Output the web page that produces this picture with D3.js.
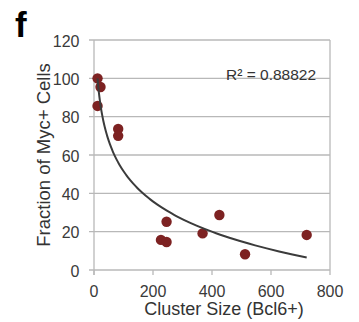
<!DOCTYPE html>
<html>
<head>
<meta charset="utf-8">
<script src="https://cdn.jsdelivr.net/npm/d3@7"></script>
<style>
  body { margin: 0; background: #fff; }
  text { font-family: "Liberation Sans", Arial, sans-serif; }
</style>
</head>
<body>
<div id="chart"></div>
<script>
// values
var clusterSize = [12, 22, 12, 82, 82, 246, 227, 246, 368, 425, 512, 721];
var fractionMyc = [100, 95.5, 85.6, 73.6, 70, 25.2, 15.7, 14.6, 19.1, 28.7, 8.2, 18.3];
var xTicks = [0, 200, 400, 600, 800];
var yTicks = [0, 20, 40, 60, 80, 100, 120];
var r2Label = "R\u00b2 = 0.88822";

var svg = d3.select("#chart").append("svg")
  .attr("width", 359)
  .attr("height", 322);

var margin = { top: 40, left: 94, right: 29, bottom: 52 };
var width = 359 - margin.left - margin.right;
var height = 322 - margin.top - margin.bottom;

var g = svg.append("g").attr("transform", "translate(" + margin.left + "," + margin.top + ")");

var x = d3.scaleLinear().domain([0, 800]).range([0, width]);
var y = d3.scaleLinear().domain([0, 120]).range([height, 0]);

// grid lines
g.selectAll(".grid")
  .data(yTicks)
  .enter().append("line")
  .attr("x1", -5).attr("x2", width)
  .attr("y1", function (d) { return y(d); })
  .attr("y2", function (d) { return y(d); })
  .attr("stroke", "#b8b8b8")
  .attr("stroke-width", 1.3);

// left axis and right border
g.append("line").attr("x1", 0).attr("x2", 0).attr("y1", 0).attr("y2", height + 5)
  .attr("stroke", "#b8b8b8").attr("stroke-width", 1.3);
g.append("line").attr("x1", width).attr("x2", width).attr("y1", 0).attr("y2", height)
  .attr("stroke", "#b8b8b8").attr("stroke-width", 1.3);

// bottom ticks
g.selectAll(".xtick")
  .data(xTicks)
  .enter().append("line")
  .attr("x1", function (d) { return x(d); })
  .attr("x2", function (d) { return x(d); })
  .attr("y1", height).attr("y2", height + 5)
  .attr("stroke", "#b8b8b8").attr("stroke-width", 1.3);

g.selectAll(".xlab")
  .data(xTicks)
  .enter().append("text")
  .attr("x", function (d) { return x(d); })
  .attr("y", height + 26.5)
  .attr("text-anchor", "middle")
  .attr("font-size", 16)
  .attr("fill", "#3a3a3a")
  .text(function (d) { return d; });

g.selectAll(".ylab")
  .data(yTicks)
  .enter().append("text")
  .attr("x", -14.5)
  .attr("y", function (d) { return y(d) + 6.5; })
  .attr("text-anchor", "end")
  .attr("font-size", 16)
  .attr("fill", "#3a3a3a")
  .text(function (d) { return d; });

// points
var pts = clusterSize.map(function (d, i) { return [d, fractionMyc[i]]; });
g.selectAll("circle")
  .data(pts)
  .enter().append("circle")
  .attr("cx", function (d) { return x(d[0]); })
  .attr("cy", function (d) { return y(d[1]); })
  .attr("r", 5.2)
  .attr("fill", "#7d2222");

// logarithmic trendline, least squares on ln(x)
var lx = clusterSize.map(Math.log);
var mx = d3.mean(lx), my = d3.mean(fractionMyc);
var sxy = d3.sum(lx, function (d, i) { return (d - mx) * (fractionMyc[i] - my); });
var sxx = d3.sum(lx, function (d) { return (d - mx) * (d - mx); });
var a = sxy / sxx, b = my - a * mx;
var lo = Math.log(d3.min(clusterSize)), hi = Math.log(d3.max(clusterSize));
var xs = d3.range(60).map(function (i) {
  return Math.exp(lo + (hi - lo) * i / 59);
});
var line = d3.line()
  .x(function (d) { return x(d); })
  .y(function (d) { return y(a * Math.log(d) + b); })
  .curve(d3.curveMonotoneX);
g.append("path")
  .datum(xs)
  .attr("fill", "none")
  .attr("stroke", "#3b3b3b")
  .attr("stroke-width", 2)
  .attr("d", line);

g.append("text")
  .attr("x", 226 - margin.left)
  .attr("y", 80 - margin.top)
  .attr("font-size", 15.5)
  .attr("fill", "#333")
  .text(r2Label);

// axis titles
svg.append("text")
  .attr("transform", "translate(50,155) rotate(-90)")
  .attr("text-anchor", "middle")
  .attr("font-size", 18.5)
  .attr("fill", "#333")
  .text("Fraction of Myc+ Cells");

svg.append("text")
  .attr("x", 224)
  .attr("y", 315)
  .attr("text-anchor", "middle")
  .attr("font-size", 18)
  .attr("fill", "#333")
  .text("Cluster Size (Bcl6+)");

svg.append("text")
  .attr("x", 15)
  .attr("y", 37)
  .attr("font-size", 35)
  .attr("font-weight", "bold")
  .attr("fill", "#000")
  .text("f");
</script>
</body>
</html>
